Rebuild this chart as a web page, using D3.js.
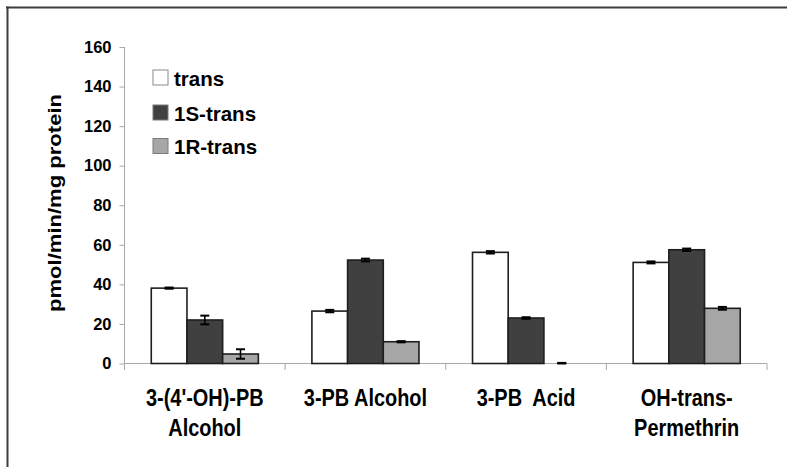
<!DOCTYPE html>
<html>
<head>
<meta charset="utf-8">
<script src="https://cdn.jsdelivr.net/npm/d3@7"></script>
<style>
  html, body { margin: 0; padding: 0; background: #fff; }
  svg { display: block; }
  text { font-family: "Liberation Sans", Arial, sans-serif; font-weight: bold; fill: #000; white-space: pre; }
</style>
</head>
<body>
<svg id="chart" width="787" height="467"></svg>
<script>
// Metabolite categories (two-line labels)
const categories = ["3-(4'-OH)-PB Alcohol", "3-PB Alcohol", "3-PB Acid", "OH-trans-Permethrin"];
const categoryLines = [["3-(4'-OH)-PB", "Alcohol"], ["3-PB Alcohol"], ["3-PB  Acid"], ["OH-trans-", "Permethrin"]];

// Series
const seriesNames = ["trans", "1S-trans", "1R-trans"];
const transValues = [38.1, 26.5, 56.2, 51.1];
const s1Values    = [22.0, 52.3, 23.0, 57.5];
const r1Values    = [4.8, 11.0, 0, 27.9];
const transErr = [0.3, 0.6, 0.6, 0.5];
const s1Err    = [2.2, 0.7, 0.4, 0.6];
const r1Err    = [2.4, 0.3, 0.3, 0.7];

const yTicks = [0, 20, 40, 60, 80, 100, 120, 140, 160];
const yTitle = "pmol/min/mg protein";

const seriesValues = [transValues, s1Values, r1Values];
const seriesErrors = [transErr, s1Err, r1Err];
const seriesFill = ["#ffffff", "#404040", "#a6a6a6"];

const svg = d3.select("#chart");

// outer frame (top and left edges)
svg.append("line").attr("x1", 6).attr("x2", 787).attr("y1", 7.5).attr("y2", 7.5)
  .attr("stroke", "#3c3c3c").attr("stroke-width", 2);
svg.append("line").attr("x1", 7.5).attr("x2", 7.5).attr("y1", 6.5).attr("y2", 467)
  .attr("stroke", "#3c3c3c").attr("stroke-width", 2);

const y = d3.scaleLinear().domain([0, 160]).range([363.5, 47]);
const x = d3.scaleBand().domain(categories).range([124.5, 767]).padding(0);
const xs = d3.scaleBand().domain(seriesNames).range([0, x.bandwidth()])
  .paddingInner(0).paddingOuter(0.75);

const axisColor = "#a8a8a8";

// y axis
const yAxis = svg.append("g").attr("transform", "translate(124.5,0)")
  .call(d3.axisLeft(y).tickValues(yTicks).tickSize(5).tickSizeOuter(0).tickPadding(8));
yAxis.select(".domain").remove();
yAxis.selectAll(".tick line").attr("stroke", axisColor);
yAxis.selectAll(".tick text").attr("font-size", 16.5)
  .style("font-family", "'Liberation Sans', Arial, sans-serif").style("font-weight", "bold").attr("fill", "#000");
svg.append("line").attr("x1", 124.5).attr("x2", 124.5)
  .attr("y1", y(160)).attr("y2", y(0) + 6.5).attr("stroke", axisColor);

// x axis line + category boundary ticks
svg.append("line").attr("x1", 124.5).attr("x2", 767).attr("y1", y(0)).attr("y2", y(0))
  .attr("stroke", axisColor);
const bounds = categories.map(c => x(c)).concat([x.range()[1]]);
svg.selectAll("line.xtick").data(bounds).join("line").attr("class", "xtick")
  .attr("x1", d => d).attr("x2", d => d)
  .attr("y1", y(0)).attr("y2", y(0) + 6.5).attr("stroke", axisColor);

// bars
const groups = svg.selectAll("g.cat").data(categories).join("g").attr("class", "cat")
  .attr("transform", c => `translate(${x(c)},0)`);

seriesNames.forEach((s, si) => {
  groups.append("rect")
    .attr("x", xs(s))
    .attr("y", (c, ci) => y(seriesValues[si][ci]))
    .attr("width", xs.bandwidth())
    .attr("height", (c, ci) => y(0) - y(seriesValues[si][ci]))
    .attr("fill", seriesFill[si])
    .attr("stroke", (c, ci) => seriesValues[si][ci] > 0 ? "#1e1e1e" : "none")
    .attr("stroke-width", 1.6);
});

// error bars
seriesNames.forEach((s, si) => {
  const cx = xs(s) + xs.bandwidth() / 2;
  const g = groups.append("g").attr("class", "err");
  g.each(function (c, ci) {
    const v = seriesValues[si][ci], e = seriesErrors[si][ci];
    const lo = Math.max(0, v - e), hi = v + e;
    const sel = d3.select(this);
    const cap = 4.5;
    sel.append("line").attr("x1", cx).attr("x2", cx).attr("y1", y(lo)).attr("y2", y(hi))
      .attr("stroke", "#000").attr("stroke-width", 1.6);
    [lo, hi].forEach(val => {
      sel.append("line").attr("x1", cx - cap).attr("x2", cx + cap)
        .attr("y1", y(val)).attr("y2", y(val))
        .attr("stroke", "#000").attr("stroke-width", 2);
    });
  });
});

// category labels (condensed bold)
const labelG = svg.selectAll("g.xlabel").data(categories).join("g").attr("class", "xlabel")
  .attr("transform", c => `translate(${x(c) + x.bandwidth() / 2},0) scale(0.83,1)`);
labelG.each(function (c, ci) {
  const lines = categoryLines[ci];
  d3.select(this).selectAll("text").data(lines).join("text")
    .attr("x", 0).attr("y", (d, i) => 406 + i * 30)
    .attr("text-anchor", "middle").attr("font-size", 24)
    .text(d => d);
});

// y axis title
svg.append("text")
  .attr("transform", "translate(61,203) rotate(-90)")
  .attr("text-anchor", "middle").attr("font-size", 18.5)
  .attr("textLength", 218).attr("lengthAdjust", "spacingAndGlyphs")
  .text(yTitle);

// legend
const legendY = [78, 113, 146.5];
const leg = svg.selectAll("g.legend").data(seriesNames).join("g").attr("class", "legend")
  .attr("transform", (d, i) => `translate(153,${legendY[i]})`);
leg.append("rect").attr("x", 0).attr("y", -8).attr("width", 15).attr("height", 15)
  .attr("fill", (d, i) => seriesFill[i]).attr("stroke", (d, i) => i === 0 ? "#8a8a8a" : "#7a7a7a")
  .attr("stroke-width", 1);
leg.append("text").attr("x", 21).attr("y", 7.5).attr("font-size", 20.5).text(d => d);
</script>
</body>
</html>
